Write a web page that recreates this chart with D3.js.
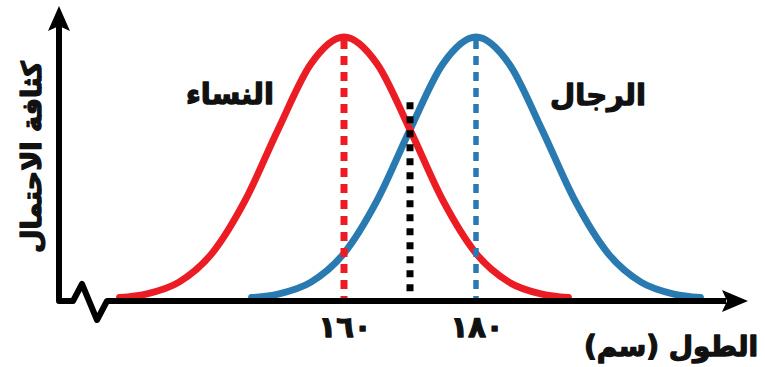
<!DOCTYPE html>
<html lang="ar">
<head>
<meta charset="utf-8">
<script src="https://cdn.jsdelivr.net/npm/d3@7"></script>
<style>
  html, body { margin: 0; padding: 0; background: #fff; }
  svg { display: block; }
  .lbl { font-family: "DejaVu Sans", sans-serif; font-weight: bold; fill: #111; stroke: #111; stroke-width: 1.3; stroke-linejoin: round; }
</style>
</head>
<body>
<svg id="chart" width="765" height="367"></svg>
<script>
// Height in cm and probability density for each group
const womenHeights = [126, 130, 135, 140, 145, 150, 155, 160, 165, 170, 175, 180, 185, 190, 194];
const womenDensity = [0.0002, 0.0007, 0.0024, 0.0065, 0.0140, 0.0241, 0.0335, 0.0373, 0.0335, 0.0241, 0.0140, 0.0065, 0.0024, 0.0007, 0.0002];
const menHeights   = [146, 150, 155, 160, 165, 170, 175, 180, 185, 190, 195, 200, 205, 210, 214];
const menDensity   = [0.0002, 0.0007, 0.0024, 0.0065, 0.0140, 0.0241, 0.0335, 0.0373, 0.0335, 0.0241, 0.0140, 0.0065, 0.0024, 0.0007, 0.0002];

const means = [160, 180];
const meanLabels = ["١٦٠", "١٨٠"];
const seriesNames = ["النساء", "الرجال"];
const threshold = 170;
const thresholdTop = 0.028;
const yTitle = "كثافة الاحتمال";
const xTitle = "الطول (سم)";

const RED = "#ec1c24";
const BLUE = "#2a7ab2";

const svg = d3.select("#chart");

const x = d3.scaleLinear().domain([150, 190]).range([278, 542]);
const y = d3.scaleLinear().domain([0, 0.0373]).range([299, 37]);

const line = d3.line()
  .x(d => x(d[0]))
  .y(d => y(d[1]))
  .curve(d3.curveMonotoneX);

const women = womenHeights.map((h, i) => [h, womenDensity[i]]);
const men = menHeights.map((h, i) => [h, menDensity[i]]);

// density curves
svg.append("path").datum(men)
  .attr("d", line).attr("fill", "none")
  .attr("stroke", BLUE).attr("stroke-width", 7).attr("stroke-linecap", "round");
svg.append("path").datum(women)
  .attr("d", line).attr("fill", "none")
  .attr("stroke", RED).attr("stroke-width", 7).attr("stroke-linecap", "round");

// mean markers
const peakOf = [d3.max(womenDensity), d3.max(menDensity)];
svg.selectAll(".mean").data(means).join("line")
  .attr("class", "mean")
  .attr("x1", d => x(d)).attr("x2", d => x(d))
  .attr("y1", (d, i) => y(peakOf[i]) + 3).attr("y2", y(0) + 1)
  .attr("stroke", (d, i) => i === 0 ? RED : BLUE)
  .attr("stroke-width", (d, i) => i === 0 ? 7 : 5.5)
  .attr("stroke-dasharray", "9,7");

// threshold marker
svg.append("line")
  .attr("x1", x(threshold)).attr("x2", x(threshold))
  .attr("y1", y(thresholdTop)).attr("y2", y(0) + 1)
  .attr("stroke", "#000").attr("stroke-width", 7)
  .attr("stroke-dasharray", "7,7");

// axes
const x0 = 59, base = 301;
svg.append("path")
  .attr("d", `M${x0},26 L${x0},${base} L73,${base} L82,284 L97,320 L107,${base} L726,${base}`)
  .attr("fill", "none").attr("stroke", "#000").attr("stroke-width", 6)
  .attr("stroke-linejoin", "round");
svg.append("path")
  .attr("d", `M${x0},6 L70,31 L${x0},26 L48,31 Z`).attr("fill", "#000");
svg.append("path")
  .attr("d", `M748,${base} L722,290 L727,${base} L722,312 Z`).attr("fill", "#000");

// tick labels
svg.selectAll(".tick-lbl").data(means).join("text")
  .attr("class", "lbl tick-lbl")
  .attr("x", d => x(d) + 1).attr("y", 337)
  .attr("text-anchor", "middle")
  .attr("font-size", 29)
  .attr("letter-spacing", 3)
  .text((d, i) => meanLabels[i]);

// series names
svg.append("text").attr("class", "lbl")
  .attr("x", 230).attr("y", 104).attr("text-anchor", "middle")
  .attr("font-size", 29).attr("direction", "rtl").text(seriesNames[0]);
svg.append("text").attr("class", "lbl")
  .attr("x", 598).attr("y", 105).attr("text-anchor", "middle")
  .attr("font-size", 29).attr("direction", "rtl").text(seriesNames[1]);

// axis titles
svg.append("text").attr("class", "lbl")
  .attr("transform", "translate(41,157) rotate(-90)")
  .attr("text-anchor", "middle").attr("font-size", 27)
  .attr("direction", "rtl").text(yTitle);
svg.append("text").attr("class", "lbl")
  .attr("x", 671).attr("y", 356).attr("text-anchor", "middle")
  .attr("font-size", 28).attr("direction", "rtl").text(xTitle);
</script>
</body>
</html>
